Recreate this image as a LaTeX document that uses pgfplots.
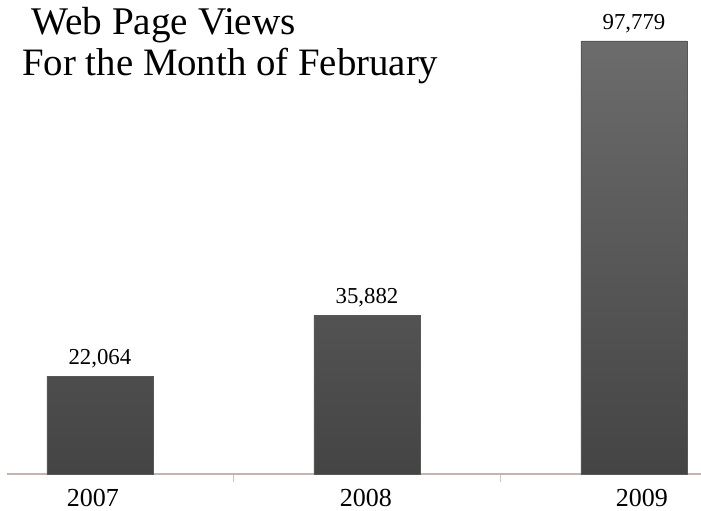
\documentclass[border=0pt]{standalone}
\usepackage{pgfplots}
\pgfplotsset{compat=1.18}
\usepackage{fontspec}
\setmainfont{Liberation Serif}
\definecolor{bartop}{HTML}{6C6C6C}
\definecolor{barbot}{HTML}{444444}
\definecolor{axisline}{HTML}{C4B4AC}
\begin{document}
\begin{tikzpicture}
\begin{axis}[
  at={(0,0)}, anchor=south west,
  scale only axis,
  width=347pt, height=237pt,
  xmin=-0.348, xmax=2.251,
  ymin=0, ymax=107000,
  axis x line*=bottom,
  axis y line=none,
  x axis line style={color=axisline, line width=0.6pt},
  xtick={-0.026,0.996,2.03},
  xticklabels={2007,2008,2009},
  major x tick style={draw=none},
  minor xtick={0.5,1.5},
  minor tick length=4pt,
  xtick align=outside,
  minor x tick style={color=axisline!80, line width=0.6pt},
  xticklabel style={font=\fontsize{13}{15}\selectfont, yshift=0pt},
  ybar, bar width=53pt,
  /pgf/number format/assume math mode=true,
  nodes near coords,
  every node near coord/.append style={font=\fontsize{11.4}{13}\selectfont, text=black, yshift=0.5pt, /pgf/number format/1000 sep={,}, /pgf/number format/fixed},
  clip=false,
]
\addplot[draw=barbot!90, line width=0.3pt, top color=bartop, bottom color=barbot] coordinates {(0,22064) (1,35882) (2,97779)};
\end{axis}
\node[anchor=base west, font=\fontsize{19.6}{23}\selectfont, inner sep=0pt] at (12pt,220pt) {Web Page Views};
\node[anchor=base west, font=\fontsize{19.4}{22}\selectfont, inner sep=0pt] at (7.5pt,199.5pt) {For the Month of February};
\pgfresetboundingbox
\path[use as bounding box] (-3.5pt,-18pt) rectangle (347pt,237pt);
\end{tikzpicture}
\end{document}
